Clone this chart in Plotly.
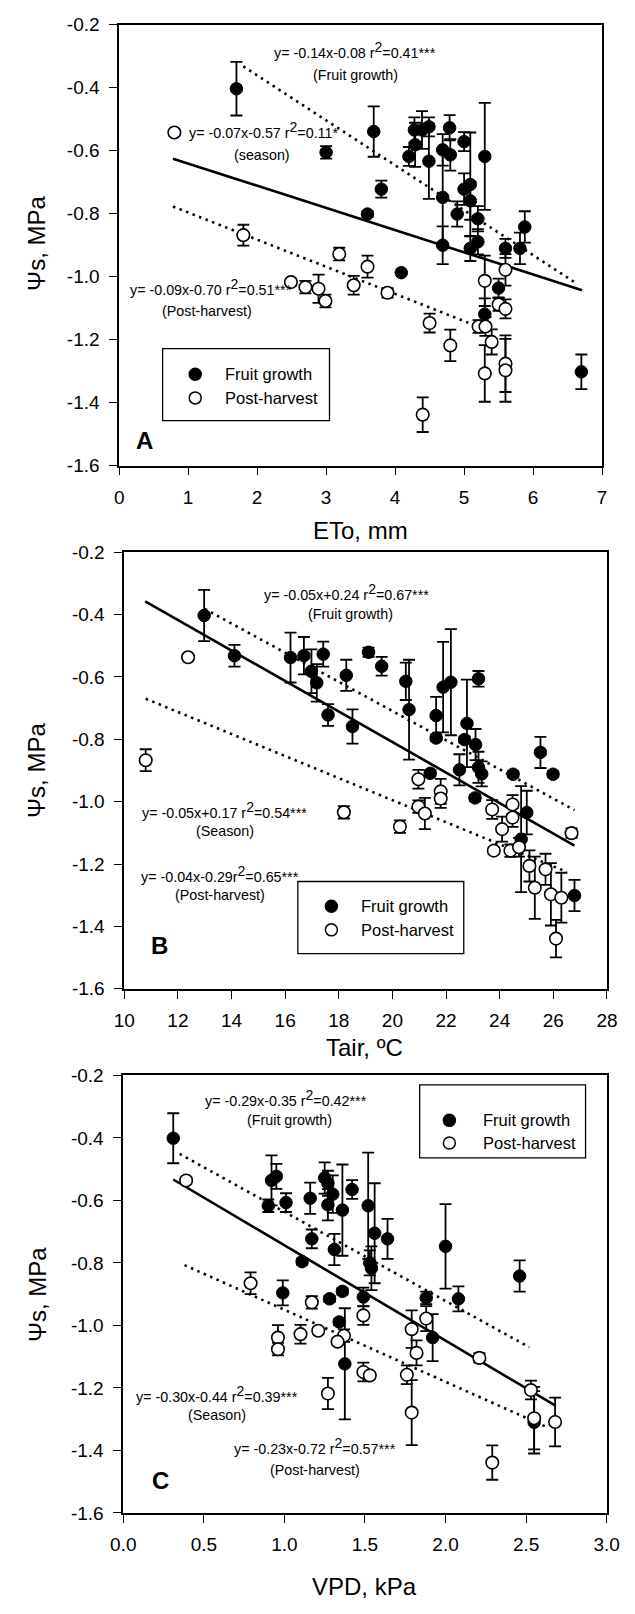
import plotly.graph_objects as go

W, H = 635, 1614
FONT = "Arial, 'Liberation Sans', sans-serif"

# ---------------- Panel A (ETo) ----------------
a_fg_x = [1.70, 3.69, 3.00, 3.80, 3.60, 4.20, 4.29, 4.28, 4.39, 4.49, 4.49, 4.79, 4.69, 4.80, 5.00, 4.69,
          5.00, 5.09, 5.09, 4.90, 5.20, 5.30, 5.88, 4.69, 5.09, 5.20, 5.60, 5.81, 4.09, 5.50, 5.30, 6.70]
a_fg_y = [-0.403, -0.539, -0.605, -0.722, -0.801, -0.618, -0.581, -0.534, -0.534, -0.524, -0.633, -0.527,
          -0.597, -0.613, -0.571, -0.748, -0.722, -0.707, -0.759, -0.801, -0.816, -0.618, -0.842, -0.900,
          -0.910, -0.889, -0.910, -0.910, -0.987, -1.036, -1.119, -1.302]
a_fg_e = [0.085, 0.08, 0.02, 0.027, 0.01, 0.03, 0.07, 0.04, 0.06, 0.03, 0.12, 0.04, 0.05, 0.05, 0.03, 0.15,
          0.05, 0.165, 0.06, 0.04, 0.04, 0.17, 0.05, 0.06, 0.04, 0.04, 0.03, 0.05, 0.0, 0.03, 0.05, 0.055]
a_ph_x = [0.80, 1.80, 3.19, 3.60, 2.49, 2.70, 2.89, 2.99, 3.40, 3.89, 4.50, 4.80, 4.40, 5.30, 5.60, 5.50,
          5.60, 5.21, 5.31, 5.40, 5.30, 5.60, 5.60]
a_ph_y = [-0.542, -0.868, -0.928, -0.968, -1.017, -1.033, -1.038, -1.077, -1.027, -1.051, -1.147, -1.218,
          -1.438, -1.013, -0.978, -1.088, -1.102, -1.158, -1.158, -1.207, -1.307, -1.276, -1.297]
a_ph_e = [0.01, 0.033, 0.02, 0.035, 0.01, 0.02, 0.045, 0.02, 0.03, 0.015, 0.03, 0.05, 0.055, 0.08, 0.05,
          0.02, 0.03, 0.02, 0.03, 0.04, 0.09, 0.09, 0.1]
a_fit_season = ([0.78, 6.71], [-0.625, -1.043])
a_fit_fg = ([1.80, 6.62], [-0.332, -1.020])
a_fit_ph = ([0.78, 5.20], [-0.777, -1.158])

# ---------------- Panel B (Tair) ----------------
b_fg_x = [12.98, 14.11, 16.20, 16.70, 16.98, 17.18, 17.42, 18.28, 19.11, 19.60, 20.50, 20.62, 17.60, 18.51,
          21.89, 22.18, 23.21, 21.63, 21.63, 22.78, 22.69, 23.10, 25.52, 25.99, 24.50, 23.21, 23.33, 22.50,
          21.41, 23.08, 25.01, 24.80, 26.79]
b_fg_y = [-0.403, -0.532, -0.538, -0.532, -0.582, -0.619, -0.527, -0.595, -0.521, -0.566, -0.614, -0.705,
          -0.722, -0.759, -0.633, -0.617, -0.606, -0.724, -0.796, -0.749, -0.801, -0.817, -0.842, -0.912,
          -0.912, -0.890, -0.911, -0.898, -0.909, -0.988, -1.035, -1.120, -1.301]
b_fg_e = [0.082, 0.035, 0.08, 0.06, 0.07, 0.06, 0.04, 0.05, 0.015, 0.03, 0.06, 0.16, 0.035, 0.055, 0.145,
          0.17, 0.025, 0.06, 0.01, 0.14, 0.01, 0.05, 0.05, 0.01, 0.01, 0.05, 0.04, 0.05, 0.01, 0.01, 0.07,
          0.17, 0.05]
b_ph_x = [12.38, 10.80, 18.19, 20.28, 20.97, 20.97, 21.21, 21.80, 21.80, 23.72, 24.48, 24.48, 24.09, 23.78,
          24.40, 24.72, 25.11, 25.71, 25.31, 25.91, 26.30, 26.10, 26.68]
b_ph_y = [-0.537, -0.867, -1.034, -1.080, -0.928, -1.016, -1.038, -0.967, -0.990, -1.025, -1.009, -1.051,
          -1.088, -1.157, -1.157, -1.146, -1.206, -1.217, -1.276, -1.297, -1.308, -1.439, -1.101]
b_ph_e = [0.01, 0.035, 0.02, 0.02, 0.03, 0.02, 0.05, 0.04, 0.03, 0.03, 0.03, 0.03, 0.04, 0.01, 0.02, 0.03,
          0.05, 0.05, 0.1, 0.1, 0.08, 0.06, 0.015]
b_fit_season = ([10.78, 26.79], [-0.358, -1.141])
b_fit_fg = ([13.0, 26.79], [-0.382, -1.027])
b_fit_ph = ([10.8, 26.5], [-0.670, -1.225])

# ---------------- Panel C (VPD) ----------------
c_fg_x = [0.31, 0.92, 0.95, 0.90, 1.01, 1.16, 1.25, 1.27, 1.30, 1.27, 1.36, 1.42, 1.52, 1.56, 1.64, 1.17,
          1.31, 1.11, 1.53, 1.54, 2.00, 2.46, 0.99, 1.28, 1.36, 1.49, 1.88, 2.08, 1.34, 1.375, 1.92, 2.55]
c_fg_y = [-0.401, -0.536, -0.523, -0.617, -0.607, -0.593, -0.528, -0.545, -0.580, -0.614, -0.631, -0.565,
          -0.617, -0.705, -0.723, -0.723, -0.757, -0.796, -0.800, -0.817, -0.747, -0.842, -0.896, -0.915,
          -0.891, -0.909, -0.912, -0.915, -0.989, -1.123, -1.039, -1.310]
c_fg_e = [0.08, 0.08, 0.04, 0.02, 0.03, 0.05, 0.05, 0.04, 0.06, 0.05, 0.146, 0.03, 0.17, 0.16, 0.064, 0.03,
          0.05, 0.01, 0.04, 0.07, 0.135, 0.05, 0.04, 0.01, 0.01, 0.03, 0.02, 0.04, 0.01, 0.178, 0.075, 0.1]
c_ph_x = [0.39, 0.79, 1.17, 1.49, 0.96, 0.96, 1.10, 1.21, 1.37, 1.33, 1.27, 1.49, 1.53, 1.76, 1.79, 1.88,
          1.82, 1.79, 2.21, 2.29, 2.53, 2.55, 2.68]
c_ph_y = [-0.536, -0.865, -0.926, -0.968, -1.039, -1.076, -1.028, -1.017, -1.033, -1.052, -1.218, -1.149,
          -1.160, -1.158, -1.012, -0.978, -1.088, -1.279, -1.104, -1.439, -1.207, -1.297, -1.309]
c_ph_e = [0.01, 0.035, 0.02, 0.03, 0.04, 0.02, 0.03, 0.01, 0.02, 0.01, 0.05, 0.03, 0.01, 0.03, 0.06, 0.04,
          0.04, 0.104, 0.015, 0.055, 0.03, 0.1, 0.078]
c_fit_season = ([0.31, 2.68], [-0.533, -1.256])
c_fit_fg = ([0.35, 2.52], [-0.451, -1.070])
c_fit_ph = ([0.38, 2.64], [-0.807, -1.328])

# tick labels (hyphen-minus as in the original)
y_tickvals = [-1.6, -1.4, -1.2, -1.0, -0.8, -0.6, -0.4, -0.2]
y_ticktext = ["-1.6", "-1.4", "-1.2", "-1.0", "-0.8", "-0.6", "-0.4", "-0.2"]

x_titles = ["ETo, mm", "Tair, ºC", "VPD, kPa"]
y_title = "Ψs, MPa"
panel_letters = ["A", "B", "C"]
legend_labels = ["Fruit growth", "Post-harvest"]

# ---------------- layout geometry (pixels) ----------------
def px(x, y):
    return x / W, 1 - y / H

panels = [
    dict(x0=110.7, x1=614.2, y0=15.0, y1=461.7, xr=[0, 7], dt=1, fmt="d",
         fg=(a_fg_x, a_fg_y, a_fg_e), ph=(a_ph_x, a_ph_y, a_ph_e),
         fits=[a_fit_season, a_fit_fg, a_fit_ph]),
    dict(x0=116.0, x1=619.3, y0=549.3, y1=991.7, xr=[10, 28], dt=2, fmt="d",
         fg=(b_fg_x, b_fg_y, b_fg_e), ph=(b_ph_x, b_ph_y, b_ph_e),
         fits=[b_fit_season, b_fit_fg, b_fit_ph]),
    dict(x0=115.0, x1=619.0, y0=1079.5, y1=1522.7, xr=[0, 3], dt=0.5, fmt=".1f",
         fg=(c_fg_x, c_fg_y, c_fg_e), ph=(c_ph_x, c_ph_y, c_ph_e),
         fits=[c_fit_season, c_fit_fg, c_fit_ph]),
]

fig = go.Figure()
layout = dict(width=W, height=H, margin=dict(l=0, r=0, t=0, b=0), paper_bgcolor="white",
              plot_bgcolor="white", showlegend=False, font=dict(family=FONT, color="black"))
annotations = []
shapes = []


def add_text(text, x, y, size, xanchor="center", yanchor="middle", angle=0):
    ax_, ay_ = px(x, y)
    annotations.append(dict(x=ax_, y=ay_, xref="paper", yref="paper", text=text, showarrow=False,
                            xanchor=xanchor, yanchor=yanchor, textangle=angle,
                            font=dict(size=size, family=FONT, color="black")))


for i, p in enumerate(panels):
    n = "" if i == 0 else str(i + 1)
    xa, ya = "x" + n, "y" + n
    styles = [dict(dash="solid", width=2.6), dict(dash="2.5px,4.5px", width=2.6),
              dict(dash="2.5px,4.5px", width=2.6)]
    for (fx, fy), st in zip(p["fits"], styles):
        fig.add_trace(go.Scatter(x=fx, y=fy, mode="lines", xaxis=xa, yaxis=ya,
                                 line=dict(color="black", **st), hoverinfo="skip"))
    fx_, fy_, fe_ = p["fg"]
    fig.add_trace(go.Scatter(x=fx_, y=fy_, mode="markers", xaxis=xa, yaxis=ya, name="Fruit growth",
                             marker=dict(size=12.5, color="black", line=dict(color="black", width=1)),
                             error_y=dict(type="data", array=fe_, visible=True, color="black",
                                          thickness=1.8, width=6)))
    ox_, oy_, oe_ = p["ph"]
    fig.add_trace(go.Scatter(x=ox_, y=oy_, mode="markers", xaxis=xa, yaxis=ya, name="Post-harvest",
                             marker=dict(size=12.5, color="white", line=dict(color="black", width=1.6)),
                             error_y=dict(type="data", array=oe_, visible=True, color="black",
                                          thickness=1.8, width=6)))
    dx0, dy1 = px(p["x0"], p["y0"])
    dx1, dy0 = px(p["x1"], p["y1"])
    axis_common = dict(showgrid=False, zeroline=False, showline=True, linecolor="black", linewidth=1.6,
                       mirror=True, ticks="outside", ticklen=8, tickwidth=1.4, tickcolor="black",
                       tickfont=dict(family=FONT, size=19, color="black"))
    layout["xaxis" + n] = dict(domain=[dx0, dx1], range=p["xr"], dtick=p["dt"], tick0=p["xr"][0],
                               tickformat=p["fmt"], anchor=ya, ticklabelstandoff=6, **axis_common)
    layout["yaxis" + n] = dict(domain=[dy0, dy1], range=[-1.6, -0.2], tickmode="array",
                               tickvals=y_tickvals, ticktext=y_ticktext,
                               anchor=xa, ticklabelstandoff=6, **axis_common)

# axis titles
for yc in [236, 770, 1301]:
    add_text(y_title, 25, yc, 24, angle=-90)
for t, (xc, yc) in zip(x_titles, [(362, 527), (367, 1051), (367, 1597)]):
    add_text(t, xc, yc, 24)

# panel letters
for t, (xc, yc) in zip(panel_letters, [(137, 436), (153, 948), (154, 1490)]):
    add_text("<b>%s</b>" % t, xc, yc, 24)

SUP2 = "<sup><span style='font-size:14px'>2</span></sup>"
eqs = [
    ("y= -0.14x-0.08 r" + SUP2 + "=0.41***", 357, 41, "center"),
    ("(Fruit growth)", 357, 66, "center"),
    ("y= -0.07x-0.57 r" + SUP2 + "=0.11*", 181, 122, "left"),
    ("(season)", 260, 147, "center"),
    ("y= -0.09x-0.70 r" + SUP2 + "=0.51***", 120, 281, "left"),
    ("(Post-harvest)", 202, 305, "center"),
    ("y= -0.05x+0.24 r" + SUP2 + "=0.67***", 348, 590, "center"),
    ("(Fruit growth)", 352, 612, "center"),
    ("y= -0.05x+0.17 r" + SUP2 + "=0.54***", 221, 811, "center"),
    ("(Season)", 221, 832, "center"),
    ("y= -0.04x-0.29r" + SUP2 + "=0.65***", 216, 875, "center"),
    ("(Post-harvest)", 216, 897, "center"),
    ("y= -0.29x-0.35 r" + SUP2 + "=0.42***", 285, 1102, "center"),
    ("(Fruit growth)", 288, 1125, "center"),
    ("y= -0.30x-0.44 r" + SUP2 + "=0.39***", 213, 1402, "center"),
    ("(Season)", 213, 1424, "center"),
    ("y= -0.23x-0.72 r" + SUP2 + "=0.57***", 315, 1455, "center"),
    ("(Post-harvest)", 315, 1479, "center"),
]
for t, xc, yc, al in eqs:
    add_text(t, xc, yc, 14.3, xanchor=al)

# legends (box + marker glyphs + labels)
legends = [  # box x0, y0, x1, y1, marker x, text x, row1 y, row2 y
    (156, 343, 330, 416, 190, 219, 369, 393),
    (297, 883, 470, 956, 332, 361, 908, 932),
    (424, 1089, 597, 1163, 455, 488, 1125, 1148),
]
for (bx0, by0, bx1, by1, mx, tx, r1, r2) in legends:
    x0p, y1p = px(bx0, by0)
    x1p, y0p = px(bx1, by1)
    shapes.append(dict(type="rect", xref="paper", yref="paper", x0=x0p, x1=x1p, y0=y0p, y1=y1p,
                       line=dict(color="black", width=1.3), fillcolor="white", layer="above"))
    for ry, fill in [(r1, "black"), (r2, "white")]:
        cx, cy = px(mx, ry)
        shapes.append(dict(type="circle", xref="paper", yref="paper", xsizemode="pixel", ysizemode="pixel",
                           xanchor=cx, yanchor=cy, x0=-6, x1=6, y0=-6, y1=6,
                           line=dict(color="black", width=1.5), fillcolor=fill, layer="above"))
    add_text(legend_labels[0], tx, r1, 16.5, xanchor="left")
    add_text(legend_labels[1], tx, r2, 16.5, xanchor="left")

layout["annotations"] = annotations
layout["shapes"] = shapes
fig.update_layout(**layout)
fig.write_html("out.html")
